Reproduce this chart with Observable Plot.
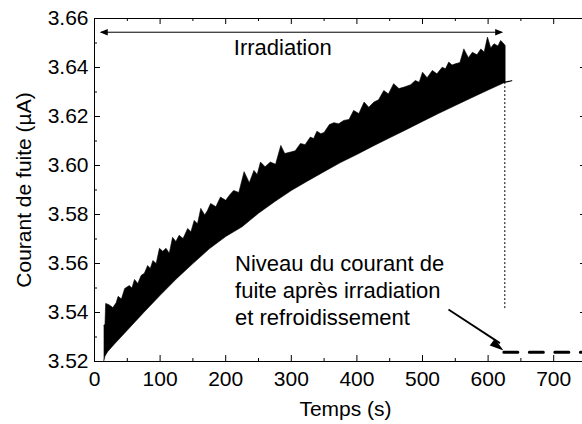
<!DOCTYPE html>
<html><head><meta charset="utf-8">
<script src="https://cdn.jsdelivr.net/npm/d3@7"></script>
<script src="https://cdn.jsdelivr.net/npm/@observablehq/plot@0.6"></script>
<style>
html,body{margin:0;padding:0;background:#fff;overflow:hidden;}
</style></head><body><div id="chart"></div>
<script>
// Tick values
const xMajorTicks = [0,100,200,300,400,500,600,700];
const xMinorTicks = [50,150,250,350,450,550,650];
const yMajorTicks = [3.52,3.54,3.56,3.58,3.60,3.62,3.64,3.66];
const yMinorTicks = [3.53,3.55,3.57,3.59,3.61,3.63,3.65];

// Upper envelope of the noisy leakage-current signal (time s, current µA)
const upperTime = [14,16,17,22,28,33,36,41,46,53,
 57,61,66,71,76,81,85,89,94,99,
 104,109,114,119,124,129,135,142,147,152,
 157,162,168,172,177,185,192,200,206,212,
 220,228,236,243,248,253,260,268,276,284,
 290,299,306,314,321,329,334,339,345,350,
 358,365,372,380,388,395,403,411,418,426,
 433,441,448,456,464,472,482,489,495,500,
 507,515,522,530,535,540,545,550,557,563,
 570,576,583,589,594,599,604,609,615,619,
 623,626];
const upperCurrent = [3.5347,3.5352,3.5437,3.5432,3.5420,3.5440,3.5466,3.5455,3.5498,3.5510,
 3.5500,3.5535,3.5518,3.5551,3.5560,3.5592,3.5580,3.5612,3.5600,3.5662,
 3.5650,3.5662,3.5642,3.5707,3.5690,3.5715,3.5702,3.5743,3.5730,3.5776,
 3.5762,3.5825,3.5798,3.5815,3.5845,3.5832,3.5871,3.5858,3.5880,3.5898,
 3.5890,3.5975,3.5930,3.5980,3.5963,3.6014,3.5995,3.6014,3.6005,3.6082,
 3.6049,3.6055,3.6060,3.6090,3.6085,3.6116,3.6110,3.6140,3.6130,3.6135,
 3.6167,3.6175,3.6170,3.6184,3.6188,3.6225,3.6212,3.6259,3.6238,3.6259,
 3.6268,3.6306,3.6292,3.6334,3.6314,3.6320,3.6330,3.6347,3.6340,3.6381,
 3.6358,3.6388,3.6374,3.6401,3.6395,3.6422,3.6410,3.6415,3.6420,3.6476,
 3.6440,3.6462,3.6452,3.6476,3.6463,3.6524,3.6480,3.6497,3.6488,3.6510,
 3.6500,3.6490];

// Lower envelope
const lowerTime = [14,16,20,30,50,75,100,125,150,175,200,225,250,275,300,325,350,375,400,425,450,475,500,525,550,575,600,626];
const lowerCurrent = [3.5200,3.5222,3.5240,3.5270,3.5328,3.5400,3.5470,3.5538,3.5600,3.5660,3.5710,3.5750,3.5805,3.5853,3.5898,3.5937,3.5975,3.6012,3.6045,3.6080,3.6113,3.6146,3.6180,3.6213,3.6245,3.6277,3.6308,3.6340];

// Short tail after the end of irradiation
const tailTime = [626,636];
const tailCurrent = [3.6340,3.6346];

// Level after irradiation and cooling
const afterTime = [624,750];
const afterCurrent = [3.5238,3.5238];

const irradiationEnd = 625.5;

// Build polygon table
const band = upperTime.map((t,i)=>({t, c: upperCurrent[i]}))
  .concat(lowerTime.map((t,i)=>({t, c: lowerCurrent[i]})).reverse());
const tail = tailTime.map((t,i)=>({t, c: tailCurrent[i]}));
const after = afterTime.map((t,i)=>({t, c: afterCurrent[i]}));

const pxY = (3.66-3.52)/343, pxX = 750/492;
const major = 6, minor = 3;

function head(len, wid, angleDeg) {
  const a = angleDeg*Math.PI/180, c = Math.cos(a), s = Math.sin(a);
  const pts = [[-len,-wid/2],[-len,wid/2]].map(([x,y])=>[x*c - y*s, x*s + y*c]);
  return {draw(ctx){ ctx.moveTo(0,0); ctx.lineTo(pts[0][0],pts[0][1]); ctx.lineTo(pts[1][0],pts[1][1]); ctx.closePath(); }};
}

const chart = Plot.plot({
  width: 592, height: 424,
  marginLeft: 94, marginRight: 6, marginTop: 18, marginBottom: 63,
  style: {fontFamily: "'Liberation Sans', Arial, sans-serif", fontSize: "21px", color: "black", background: "white", maxWidth: "none"},
  x: {domain: [0,750]},
  y: {domain: [3.52,3.66]},
  marks: [
    Plot.line(band, {x: "t", y: "c", fill: "black", stroke: "black", strokeWidth: 0.6}),
    Plot.line(tail, {x: "t", y: "c", stroke: "black", strokeWidth: 1.2}),
    Plot.ruleX([irradiationEnd], {y1: 3.5416, y2: 3.634, stroke: "black", strokeWidth: 1, strokeDasharray: "2,2"}),
    Plot.line(after, {x: "t", y: "c", stroke: "black", strokeWidth: 3, strokeDasharray: "14,11.5"}),
    // double arrow "Irradiation"
    Plot.link([0], {x1: 10, y1: 3.6544, x2: 620, y2: 3.6544, stroke: "black", strokeWidth: 1}),
    Plot.dot([0], {x: 8, y: 3.6544, symbol: head(8, 6.5, 180), fill: "black", stroke: "none"}),
    Plot.dot([0], {x: 623, y: 3.6544, symbol: head(8, 6.5, 0), fill: "black", stroke: "none"}),
    Plot.text(["Irradiation"], {x: 287, y: 3.6452, lineAnchor: "bottom", textAnchor: "middle", fontSize: 22}),
    // annotation
    Plot.text(["Niveau du courant de\nfuite après irradiation\net refroidissement"], {x: 214.3, y: 3.53497, lineAnchor: "bottom", textAnchor: "start", lineHeight: 1.22, fontSize: 22}),
    Plot.link([0], {x1: 539.6, y1: 3.5412, x2: 618, y2: 3.5275, stroke: "black", strokeWidth: 1.8}),
    Plot.dot([0], {x: 623.5, y: 3.5245, symbol: head(14, 8.5, 36.7), fill: "black", stroke: "none"}),
    // frame and inward ticks
    Plot.frame({stroke: "black", strokeWidth: 1}),
    Plot.ruleX(xMajorTicks, {x: d=>d, y1: 3.52, y2: 3.52 + major*pxY, stroke: "black"}),
    Plot.ruleX(xMinorTicks, {x: d=>d, y1: 3.52, y2: 3.52 + minor*pxY, stroke: "black"}),
    Plot.ruleX(xMajorTicks, {x: d=>d, y1: 3.66, y2: 3.66 - major*pxY, stroke: "black"}),
    Plot.ruleX(xMinorTicks, {x: d=>d, y1: 3.66, y2: 3.66 - minor*pxY, stroke: "black"}),
    Plot.ruleY(yMajorTicks, {y: d=>d, x1: 0, x2: major*pxX, stroke: "black"}),
    Plot.ruleY(yMinorTicks, {y: d=>d, x1: 0, x2: minor*pxX, stroke: "black"}),
    Plot.ruleY(yMajorTicks, {y: d=>d, x1: 750, x2: 750 - major*pxX, stroke: "black"}),
    Plot.ruleY(yMinorTicks, {y: d=>d, x1: 750, x2: 750 - minor*pxX, stroke: "black"}),
    Plot.axisX(xMajorTicks, {tickSize: 0, tickPadding: 10, label: null, tickFormat: d3.format("d")}),
    Plot.axisY(yMajorTicks, {tickSize: 0, tickPadding: 6, label: null, tickFormat: d3.format(".2f")}),
    Plot.text(["Temps (s)"], {frameAnchor: "bottom", dx: 5, dy: 54, lineAnchor: "bottom", textAnchor: "middle"}),
    Plot.text(["Courant de fuite (µA)"], {frameAnchor: "left", dx: -70, rotate: -90, lineAnchor: "middle", textAnchor: "middle"})
  ]
});
document.getElementById("chart").appendChild(chart);
</script>
</body></html>
